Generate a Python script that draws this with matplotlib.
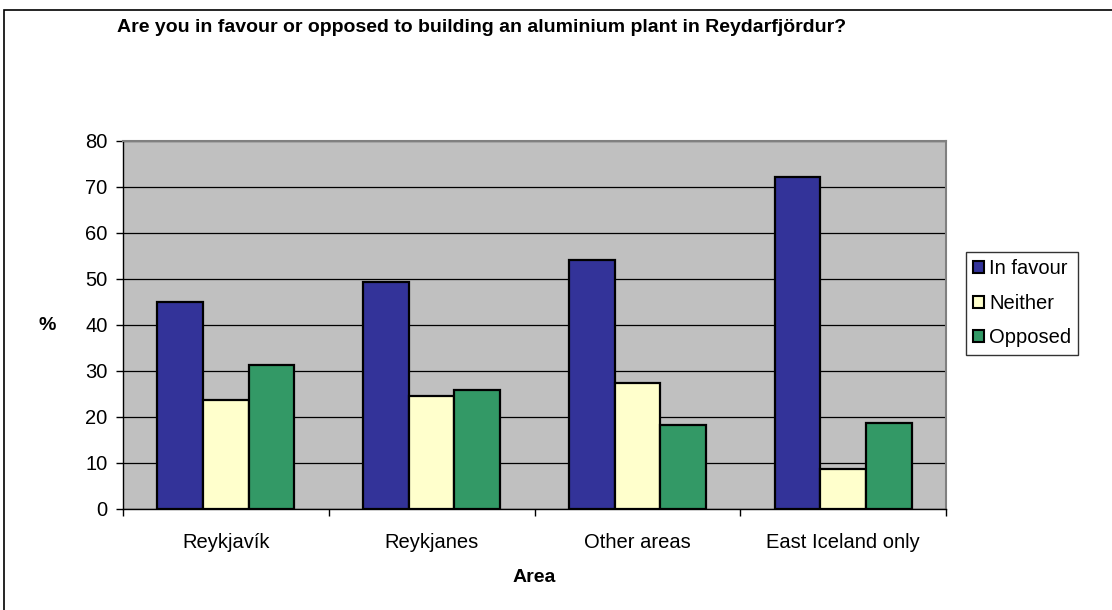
import numpy as np
import matplotlib.pyplot as plt
from matplotlib.patches import Rectangle

plt.rcParams['font.family'] = ['Liberation Sans', 'DejaVu Sans']

# Survey results (%) by area
areas = ['Reykjavík', 'Reykjanes', 'Other areas', 'East Iceland only']
in_favour = [45.0, 49.3, 54.1, 72.1]
neither = [23.6, 24.5, 27.5, 8.8]
opposed = [31.2, 25.9, 18.3, 18.8]

series = [('In favour', in_favour, '#333399'),
          ('Neither', neither, '#FFFFCC'),
          ('Opposed', opposed, '#339966')]

W, H = 1112, 610
FS = 14.5
fig = plt.figure(figsize=(W / 100, H / 100), dpi=100)

# outer chart border
fig.patches.append(Rectangle((4 / W, -0.05), 1.1, 1 - 10 / H + 0.05,
                             transform=fig.transFigure, fill=False,
                             edgecolor='black', linewidth=1.2))

left, right, top, bottom = 123 / W, 946 / W, 141 / H, 509 / H
ax = fig.add_axes([left, 1 - bottom, right - left, bottom - top])
ax.set_facecolor('#C0C0C0')

x = np.arange(len(areas))
bw = 1 / 4.5
for i, (name, vals, col) in enumerate(series):
    ax.bar(x + (i - 1) * bw, vals, width=bw, color=col, edgecolor='black',
           linewidth=1.6, label=name, zorder=3)

ax.set_xlim(-0.5, len(areas) - 0.5)
ax.set_ylim(0, 80)
ax.set_yticks(range(0, 81, 10))
ax.yaxis.grid(True, color='black', linewidth=0.9, zorder=1)
ax.set_axisbelow(True)

# category boundaries get the tick marks, names sit in between
ax.set_xticks(np.arange(-0.5, len(areas)), minor=False)
ax.set_xticklabels([])
ax.set_xticks(x, minor=True)
ax.set_xticklabels(areas, minor=True)
ax.tick_params(axis='x', which='minor', length=0, pad=17, labelsize=FS)
ax.tick_params(axis='x', which='major', length=5, width=1, direction='out')
ax.tick_params(axis='y', length=5, width=1, direction='out', labelsize=FS, pad=6)

for s in ('top', 'right'):
    ax.spines[s].set_color('#808080')
    ax.spines[s].set_linewidth(1.5)
for s in ('left', 'bottom'):
    ax.spines[s].set_color('black')
    ax.spines[s].set_linewidth(1)

fig.text(482 / W, 1 - 27 / H, 'Are you in favour or opposed to building an aluminium plant in Reydarfjördur?',
         ha='center', va='center', fontsize=14, fontweight='bold')
fig.text(47 / W, 1 - 326 / H, '%', ha='center', va='center', fontsize=14, fontweight='bold')
fig.text(534 / W, 1 - 578 / H, 'Area', ha='center', va='center', fontsize=14, fontweight='bold')

leg = fig.legend(loc='upper left', bbox_to_anchor=(966 / W, 1 - 252 / H),
                 frameon=True, fancybox=False, fontsize=FS, handlelength=0.55,
                 handleheight=0.55, handletextpad=0.25, labelspacing=0.78,
                 borderpad=0.35, borderaxespad=0)
leg.get_frame().set_edgecolor('black')
leg.get_frame().set_linewidth(1)
for h in leg.legend_handles:
    h.set_linewidth(1.5)

fig.savefig('out.png', dpi=100)
